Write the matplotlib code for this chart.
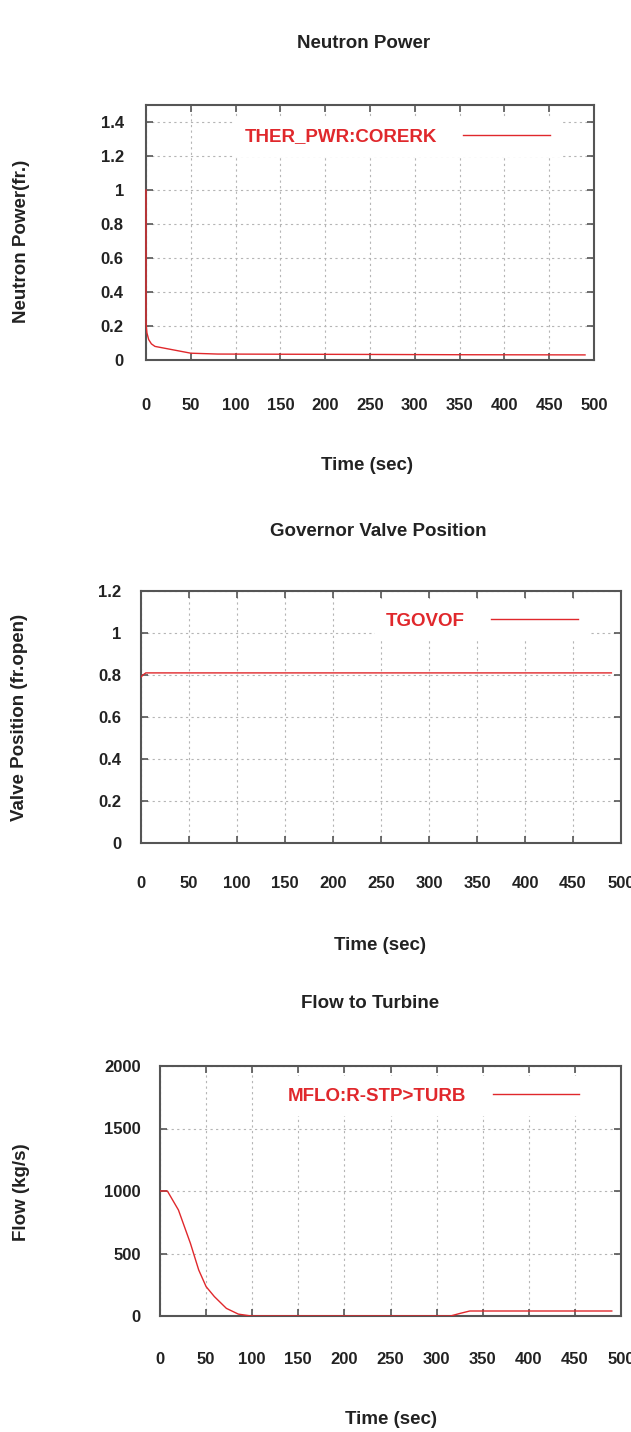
import matplotlib
matplotlib.use('Agg')
import matplotlib.pyplot as plt

# -- simulated transient signals (time in sec)
t_power = [0, 0, 0.5, 1, 3, 6, 10, 20, 30, 40, 50, 80, 150, 230, 350, 490]
power = [1.0, 0.22, 0.19, 0.16, 0.12, 0.095, 0.08, 0.07, 0.06, 0.05, 0.04, 0.035, 0.034, 0.033, 0.031, 0.03]

t_valve = [0, 2, 5, 100, 300, 490]
valve = [0.79, 0.80, 0.81, 0.81, 0.81, 0.81]

t_flow = [0, 8, 20, 33, 42, 50, 59, 72, 85, 99, 200, 315, 325, 336, 400, 490]
flow = [1000, 1000, 848, 581, 368, 235, 155, 61, 15, 0, 0, 0, 20, 40, 40, 40]

x_ticks = [0, 50, 100, 150, 200, 250, 300, 350, 400, 450, 500]

W, H = 631, 1432
plt.rcParams['font.family'] = ['Liberation Sans', 'DejaVu Sans']
plt.rcParams['font.weight'] = 'bold'
plt.rcParams['font.size'] = 13.5

red = '#e0282c'
frame = '#555555'
ink = '#222222'

fig = plt.figure(figsize=(W / 100, H / 100), dpi=100)


def px_axes(left, top, right, bottom):
    return fig.add_axes([left / W, 1 - bottom / H, (right - left) / W, (bottom - top) / H])


def style(ax, ylim, yticks, xpad, ypad, ylabels):
    ax.set_xlim(0, 500)
    ax.set_ylim(*ylim)
    ax.set_xticks(x_ticks)
    ax.set_yticks(yticks)
    ax.set_yticklabels(ylabels)
    ax.tick_params(direction='in', top=True, right=True, length=5, width=1.2,
                   color=frame, labelsize=12, labelcolor=ink)
    ax.tick_params(axis='x', pad=xpad)
    ax.tick_params(axis='y', pad=ypad)
    for s in ax.spines.values():
        s.set_color(frame)
        s.set_linewidth(1.5)
    ax.grid(True, color='#b5b5b5', linestyle=(0, (2, 3)), linewidth=0.8)
    ax.set_axisbelow(True)


def add_legend(ax, anchor):
    leg = ax.legend(loc='center right', bbox_to_anchor=anchor, markerfirst=False,
                    handlelength=4.6, handletextpad=1.4, borderpad=0.6, borderaxespad=0,
                    frameon=True, facecolor='white', edgecolor='none', framealpha=1,
                    fancybox=False, fontsize=13.5)
    for txt in leg.get_texts():
        txt.set_color(red)
    return leg


def ftext(x, y, s, **kw):
    fig.text(x / W, 1 - y / H, s, ha='center', va='center', color=ink, **kw)


# -- neutron power
ax1 = px_axes(146, 105, 594, 360)
ax1.plot(t_power, power, color=red, linewidth=1, label='THER_PWR:CORERK', zorder=3, clip_on=False)
style(ax1, (0, 1.5), [0, 0.2, 0.4, 0.6, 0.8, 1.0, 1.2, 1.4], 27, 16,
      ['0', '0.2', '0.4', '0.6', '0.8', '1', '1.2', '1.4'])
add_legend(ax1, (0.926, 0.875))
ftext(364, 44, 'Neutron Power')
ftext(367, 466, 'Time (sec)')
ftext(22, 241, 'Neutron Power(fr.)', rotation=90)

# -- governor valve
ax2 = px_axes(141, 591, 621, 843)
ax2.plot(t_valve, valve, color=red, linewidth=1, label='TGOVOF', zorder=3)
style(ax2, (0, 1.2), [0, 0.2, 0.4, 0.6, 0.8, 1.0, 1.2], 24, 14,
      ['0', '0.2', '0.4', '0.6', '0.8', '1', '1.2'])
add_legend(ax2, (0.933, 0.881))
ftext(378, 531, 'Governor Valve Position')
ftext(380, 945, 'Time (sec)')
ftext(20, 717, 'Valve Position (fr.open)', rotation=90)

# -- steam flow to turbine
ax3 = px_axes(160, 1066, 621, 1316)
ax3.plot(t_flow, flow, color=red, linewidth=1, label='MFLO:R-STP>TURB', zorder=3)
style(ax3, (0, 2000), [0, 500, 1000, 1500, 2000], 26, 14,
      ['0', '500', '1000', '1500', '2000'])
add_legend(ax3, (0.933, 0.88))
ftext(370, 1004, 'Flow to Turbine')
ftext(391, 1420, 'Time (sec)')
ftext(22, 1192, 'Flow (kg/s)', rotation=90)

plt.savefig('out.png', dpi=100, facecolor='white')
